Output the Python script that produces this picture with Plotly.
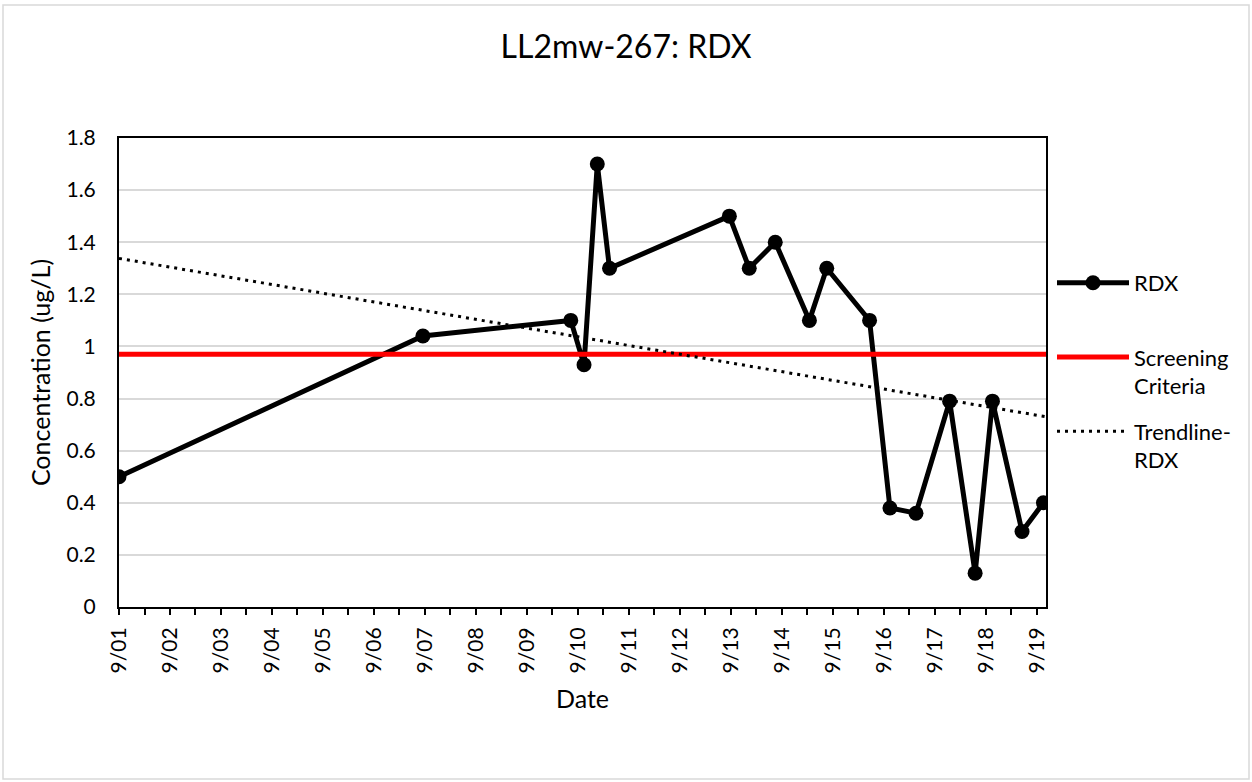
import plotly.graph_objects as go

# ---- data ----
tick_labels = ["9/01", "9/02", "9/03", "9/04", "9/05", "9/06", "9/07", "9/08", "9/09", "9/10",
               "9/11", "9/12", "9/13", "9/14", "9/15", "9/16", "9/17", "9/18", "9/19"]
tick_vals = list(range(len(tick_labels)))

rdx_x = [0.0, 5.96, 8.86, 9.12, 9.38, 9.62, 11.97, 12.36, 12.87, 13.54, 13.88,
         14.72, 15.12, 15.63, 16.29, 16.79, 17.13, 17.71, 18.13]
rdx_y = [0.50, 1.04, 1.10, 0.93, 1.70, 1.30, 1.50, 1.30, 1.40, 1.10, 1.30,
         1.10, 0.38, 0.36, 0.79, 0.13, 0.79, 0.29, 0.40]

x_end = 18.18
screen_x = [0.0, x_end]
screen_y = [0.97, 0.97]

trend_x = [0.0, x_end]
trend_y = [1.338, 0.73]

FONT = "Lato"

fig = go.Figure()
fig.add_trace(go.Scatter(
    x=rdx_x, y=rdx_y, mode="lines+markers", name="RDX<br>\u00a0", legendgroup="a",
    line=dict(color="black", width=5),
    marker=dict(color="black", size=15),
))
fig.add_trace(go.Scatter(
    x=screen_x, y=screen_y, mode="lines", name="Screening<br>Criteria", legendgroup="b",
    line=dict(color="#ff0000", width=5),
))
fig.add_trace(go.Scatter(
    x=trend_x, y=trend_y, mode="lines", name="Trendline-<br>RDX", legendgroup="c",
    line=dict(color="black", width=3, dash="3px,5px"),
))

W, H = 1252, 782
L, R, T, B = 119, 206, 138, 175
pw, ph = W - L - R, H - T - B

def px2paper_x(px):
    return (px - L) / pw

def py2paper_y(py):
    return (H - B - py) / ph

fig.update_layout(
    width=W, height=H,
    margin=dict(l=L, r=R, t=T, b=B, pad=0),
    paper_bgcolor="white", plot_bgcolor="white",
    font=dict(family=FONT, size=22, color="black"),
    title=dict(text="LL2mw-267: RDX", x=0.5, xanchor="center",
               y=1 - 47 / H, yanchor="middle", font=dict(size=32, family=FONT)),
    legend=dict(x=px2paper_x(1052), y=py2paper_y(262), xanchor="left", yanchor="top",
                font=dict(size=22, family=FONT), bgcolor="rgba(0,0,0,0)",
                tracegroupgap=14, itemwidth=72, valign="top"),
    showlegend=True,
    shapes=[dict(type="rect", xref="paper", yref="paper",
                 x0=px2paper_x(3), x1=px2paper_x(1249),
                 y0=py2paper_y(779), y1=py2paper_y(5),
                 line=dict(color="#d9d9d9", width=1.5), layer="below")],
)

fig.update_xaxes(
    range=[0, x_end], tickmode="array", tickvals=tick_vals, ticktext=tick_labels,
    tickangle=-90, ticks="outside", ticklen=6, tickwidth=1.5, tickcolor="black",
    showline=True, linecolor="black", linewidth=2, mirror=True,
    showgrid=False, zeroline=False, ticklabelstandoff=4,
    minor=dict(ticks="outside", ticklen=6, tickwidth=1.5, tickcolor="black", dtick=0.5, tick0=0, showgrid=False),
    title=dict(text="Date", font=dict(size=25, family=FONT), standoff=18),
    tickfont=dict(size=21, family=FONT),
)
fig.update_yaxes(
    range=[0, 1.8], dtick=0.2, tickformat="~g",
    showline=True, linecolor="black", linewidth=2, mirror=True,
    showgrid=True, gridcolor="#d9d9d9", gridwidth=1.5, zeroline=False,
    ticks="", ticklen=0, ticklabelstandoff=17,
    title=dict(text="Concentration (ug/L)", font=dict(size=25, family=FONT), standoff=9),
    tickfont=dict(size=21, family=FONT),
)

fig.write_html("out.html", post_script="document.body.style.margin='0';",
               config={"displayModeBar": False})
